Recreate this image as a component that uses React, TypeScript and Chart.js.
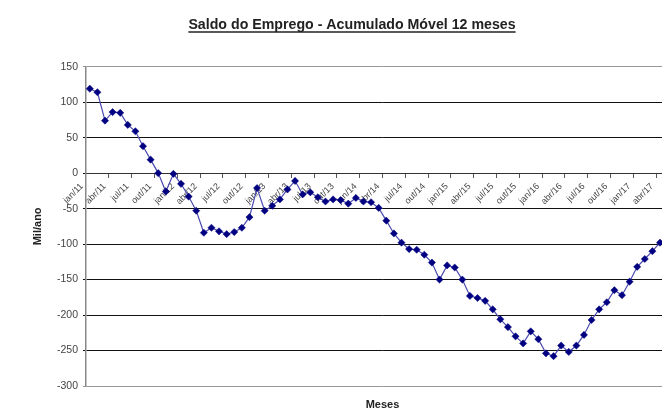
import { useEffect, useRef } from 'react';
import { Chart, registerables } from 'chart.js';

Chart.register(...registerables);

const TITLE = 'Saldo do Emprego - Acumulado Móvel 12 meses';
const Y_TITLE = 'Mil/ano';
const X_TITLE = 'Meses';

const categories: string[] = [
  'jan/11', 'fev/11', 'mar/11', 'abr/11', 'mai/11', 'jun/11', 'jul/11', 'ago/11', 'set/11', 'out/11', 'nov/11', 'dez/11',
  'jan/12', 'fev/12', 'mar/12', 'abr/12', 'mai/12', 'jun/12', 'jul/12', 'ago/12', 'set/12', 'out/12', 'nov/12', 'dez/12',
  'jan/13', 'fev/13', 'mar/13', 'abr/13', 'mai/13', 'jun/13', 'jul/13', 'ago/13', 'set/13', 'out/13', 'nov/13', 'dez/13',
  'jan/14', 'fev/14', 'mar/14', 'abr/14', 'mai/14', 'jun/14', 'jul/14', 'ago/14', 'set/14', 'out/14', 'nov/14', 'dez/14',
  'jan/15', 'fev/15', 'mar/15', 'abr/15', 'mai/15', 'jun/15', 'jul/15', 'ago/15', 'set/15', 'out/15', 'nov/15', 'dez/15',
  'jan/16', 'fev/16', 'mar/16', 'abr/16', 'mai/16', 'jun/16', 'jul/16', 'ago/16', 'set/16', 'out/16', 'nov/16', 'dez/16',
  'jan/17', 'fev/17', 'mar/17', 'abr/17', 'mai/17', 'jun/17',
];

// Saldo acumulado em 12 meses (mil); últimos dois meses fora do recorte
const saldo: (number | null)[] = [
  119, 114, 74, 86, 85, 68, 59, 38, 19, 0, -26, -1,
  -15, -33, -53, -84, -77, -82, -86, -83, -77, -62, -21, -53,
  -46, -37, -23, -11, -30, -27, -34, -40, -37, -38, -43, -35,
  -40, -41, -49, -67, -85, -98, -107, -108, -115, -126, -150, -130,
  -133, -150, -173, -176, -180, -192, -206, -217, -230, -240, -223, -234,
  -254, -258, -243, -252, -243, -228, -207, -192, -182, -165, -172, -153,
  -132, -121, -110, -98, null, null,
];

const yTicks = { min: -300, max: 150, step: 50 };
const LABEL_EVERY = 3;

const FONT = "'Liberation Sans', Arial, sans-serif";
const TITLE_SIZE = 14.2;

const titlePlugin = {
  id: 'underlinedTitle',
  afterDraw(chart: any) {
    const ctx = chart.ctx;
    ctx.save();
    ctx.font = `bold ${TITLE_SIZE}px ${FONT}`;
    ctx.fillStyle = '#222';
    ctx.textAlign = 'center';
    ctx.textBaseline = 'alphabetic';
    const cx = 352;
    const baseY = 29;
    ctx.fillText(TITLE, cx, baseY);
    const w = ctx.measureText(TITLE).width;
    ctx.strokeStyle = '#222';
    ctx.lineWidth = 1.6;
    ctx.beginPath();
    ctx.moveTo(cx - w / 2, baseY + 3);
    ctx.lineTo(cx + w / 2, baseY + 3);
    ctx.stroke();
    ctx.restore();
  },
};

export default function App() {
  const ref = useRef<HTMLCanvasElement | null>(null);

  useEffect(() => {
    if (!ref.current) return;
    const chart = new Chart(ref.current, {
      type: 'line',
      data: {
        labels: categories,
        datasets: [
          {
            label: 'Saldo',
            data: saldo,
            borderColor: '#4b4bb0',
            borderWidth: 1.2,
            pointStyle: 'rectRot',
            pointRadius: 3.6,
            pointBackgroundColor: '#000080',
            pointBorderColor: '#000080',
            pointBorderWidth: 0.5,
            tension: 0,
            spanGaps: false,
          },
        ],
      },
      options: {
        animation: false,
        responsive: false,
        devicePixelRatio: 1,
        layout: { autoPadding: false, padding: { left: 0, right: 0, top: 66.7, bottom: 0 } },
        plugins: {
          legend: { display: false },
          tooltip: { enabled: false },
          title: { display: false },
        },
        scales: {
          x: {
            type: 'category',
            position: { y: 0 } as any,
            offset: true,
            afterFit: (s: any) => {
              s.paddingLeft = 0;
              s.paddingRight = 0;
            },
            grid: {
              offset: true,
              drawOnChartArea: false,
              drawTicks: true,
              tickLength: 4,
              color: (c: any) => (c.index % LABEL_EVERY === 0 ? '#555' : 'rgba(0,0,0,0)'),
            },
            border: { display: true, color: '#333', width: 1 },
            ticks: {
              autoSkip: false,
              minRotation: 45,
              maxRotation: 45,
              padding: 4,
              labelOffset: -8,
              color: '#444',
              font: { family: FONT, size: 9 },
              callback: (_v: any, i: number) => (i % LABEL_EVERY === 0 ? categories[i] : ''),
            },
          },
          x2: {
            type: 'category',
            position: 'bottom',
            afterFit: (s: any) => {
              s.paddingLeft = 0;
              s.paddingRight = 0;
            },
            grid: { display: false, drawTicks: false },
            border: { display: false },
            ticks: { display: false },
            title: {
              display: true,
              text: X_TITLE,
              color: '#222',
              font: { family: FONT, size: 11, weight: 'bold' },
              padding: { top: 12.4, bottom: 12.4 },
            },
          },
          y: {
            min: yTicks.min,
            max: yTicks.max,
            afterFit: (s: any) => {
              s.width = 86;
            },
            ticks: {
              stepSize: yTicks.step,
              padding: 5,
              color: '#444',
              font: { family: FONT, size: 10.5 },
            },
            grid: {
              tickLength: 3,
              color: (c: any) =>
                c.tick && (c.tick.value === yTicks.max || c.tick.value === yTicks.min) ? '#999' : '#111',
            },
            border: { color: '#888', width: 1.5 },
            title: {
              display: true,
              text: Y_TITLE,
              color: '#222',
              font: { family: FONT, size: 11, weight: 'bold' },
              padding: { top: 31.4, bottom: 11 },
            },
          },
        },
      },
      plugins: [titlePlugin],
    });
    return () => chart.destroy();
  }, []);

  return (
    <div
      style={{
        position: 'fixed',
        left: 0,
        top: 0,
        width: 662,
        height: 409,
        overflow: 'hidden',
        background: '#fff',
      }}
    >
      <canvas ref={ref} width={679} height={424} style={{ display: 'block', width: 679, height: 424 }} />
    </div>
  );
}
